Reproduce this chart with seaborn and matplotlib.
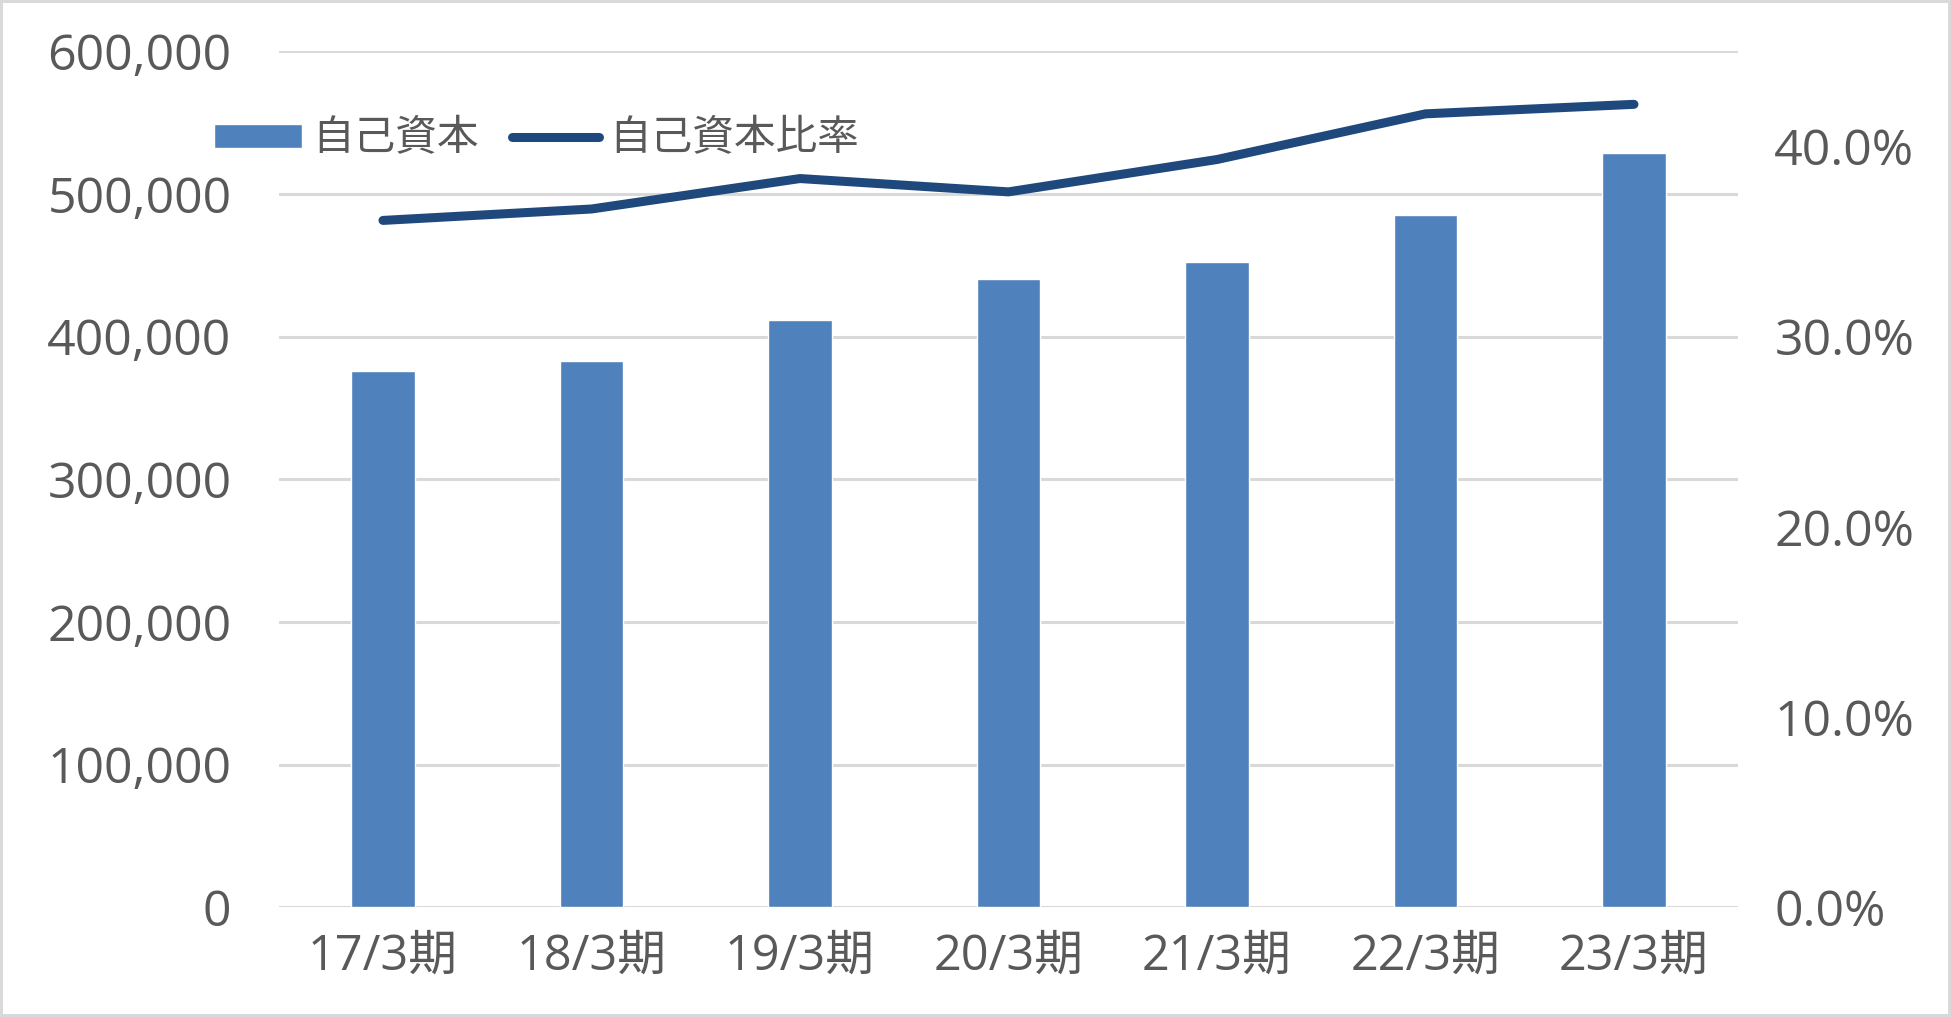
import numpy as np
import pandas as pd
import matplotlib
matplotlib.use("Agg")
import matplotlib.pyplot as plt
import seaborn as sns
from matplotlib.ticker import FuncFormatter, MultipleLocator

periods = ["17/3期", "18/3期", "19/3期", "20/3期", "21/3期", "22/3期", "23/3期"]
equity = [376000, 383000, 411500, 440500, 452500, 485000, 528500]
equity_ratio = [0.361, 0.367, 0.383, 0.376, 0.393, 0.417, 0.422]

sns.set_theme(style="white")
plt.rcParams['font.family'] = ['Open Sans', 'Noto Sans CJK JP', 'DejaVu Sans']

W, H = 1951, 1017
fig = plt.figure(figsize=(W / 100, H / 100), dpi=100)
fig.patch.set_facecolor("white")
fig.patch.set_edgecolor("#d9d9d9")
fig.patch.set_linewidth(3)

ax = fig.add_axes([224 / 1568, 1 - 729 / 817, (1397 - 224) / 1568, (729 - 41) / 817])
df = pd.DataFrame({"period": periods, "equity": equity, "ratio": equity_ratio})

bar_color = "#4f81bd"
line_color = "#1f497d"
text_color = "#595959"
grid_color = "#d9d9d9"

sns.barplot(data=df, x="period", y="equity", color=bar_color, saturation=1,
            width=0.305, ax=ax, zorder=3)
ax.set_xlim(-0.5, len(periods) - 0.5)
ax.set_ylim(0, 600000)
ax.yaxis.set_major_locator(MultipleLocator(100000))
ax.yaxis.set_major_formatter(FuncFormatter(lambda v, p: f"{int(v):,}"))
ax.grid(axis="y", color=grid_color, linewidth=2.2, zorder=0)
ax.set_axisbelow(True)
for s in ax.spines.values():
    s.set_visible(False)
ax.set_xlabel("")
ax.set_ylabel("")
ax.tick_params(axis="y", length=0, pad=34, labelsize=36, labelcolor=text_color)
ax.tick_params(axis="x", length=0, pad=18, labelsize=35, labelcolor=text_color)

ax2 = ax.twinx()
sns.lineplot(x=np.arange(len(periods)), y=df["ratio"], ax=ax2, color=line_color,
             linewidth=6.5, solid_capstyle="round")
ax2.set_ylim(0, 0.45)
ax2.set_yticks([0, 0.1, 0.2, 0.3, 0.4])
ax2.yaxis.set_major_formatter(FuncFormatter(lambda v, p: f"{v * 100:.1f}%"))
for s in ax2.spines.values():
    s.set_visible(False)
ax2.set_ylabel("")
ax2.tick_params(axis="y", length=0, pad=26, labelsize=36, labelcolor=text_color)
ax2.grid(False)

handles = [ax.patches[0], ax2.lines[0]]
labels = ["自己資本", "自己資本比率"]
fig.legend(handles, labels, loc="center left", bbox_to_anchor=(0.1097, 1 - 112 / 817),
           frameon=False, ncol=2, fontsize=30, labelcolor=text_color,
           handlelength=2.1, handleheight=0.5, handletextpad=0.25,
           columnspacing=0.8, borderpad=0, borderaxespad=0)

fig.savefig("out.png", dpi=100, facecolor=fig.get_facecolor(), edgecolor=fig.get_edgecolor())
